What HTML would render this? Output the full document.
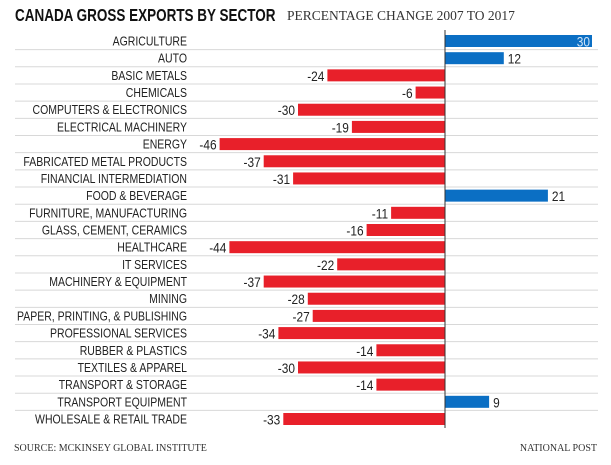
<!DOCTYPE html>
<html><head><meta charset="utf-8"><style>
body{margin:0;background:#fff;width:611px;height:465px;overflow:hidden}
svg{display:block}
.lab{font-family:"Liberation Sans",sans-serif;font-size:12.5px;fill:#222}
.val{font-family:"Liberation Sans",sans-serif;font-size:14px}
.ser{font-family:"Liberation Serif",serif;fill:#333}
</style></head><body>
<svg id="chart" width="611" height="465">
<g transform="translate(15,21) scale(0.75,1)"><text x="0" y="0" style="font-family:'Liberation Sans',sans-serif;font-weight:bold;font-size:18px;fill:#111">CANADA GROSS EXPORTS BY SECTOR</text></g>
<g transform="translate(287,20) scale(1,1)"><text x="0" y="0" class="ser" style="font-size:13.5px">PERCENTAGE CHANGE 2007 TO 2017</text></g>
<g id="rows"></g>
<text x="14" y="451" class="ser" style="font-size:10px">SOURCE: MCKINSEY GLOBAL INSTITUTE</text>
<text x="597" y="451" class="ser" text-anchor="end" style="font-size:10px">NATIONAL POST</text>
</svg>
<script>
const categories=["AGRICULTURE","AUTO","BASIC METALS","CHEMICALS","COMPUTERS & ELECTRONICS","ELECTRICAL MACHINERY","ENERGY","FABRICATED METAL PRODUCTS","FINANCIAL INTERMEDIATION","FOOD & BEVERAGE","FURNITURE,  MANUFACTURING","GLASS, CEMENT, CERAMICS","HEALTHCARE","IT SERVICES","MACHINERY & EQUIPMENT","MINING","PAPER, PRINTING, & PUBLISHING","PROFESSIONAL SERVICES","RUBBER & PLASTICS","TEXTILES & APPAREL","TRANSPORT & STORAGE","TRANSPORT EQUIPMENT","WHOLESALE & RETAIL TRADE"];
const values=[30,12,-24,-6,-30,-19,-46,-37,-31,21,-11,-16,-44,-22,-37,-28,-27,-34,-14,-30,-14,9,-33];
const NS="http://www.w3.org/2000/svg";
const g=document.getElementById('rows');
const x0=445,scale=4.9,y0=41,step=(419-41)/(categories.length-1),bh=12;
const xs=v=>x0+v*scale, ys=i=>y0+i*step;
function mk(t,a,p){const e=document.createElementNS(NS,t);for(const k in a)e.setAttribute(k,a[k]);(p||g).appendChild(e);return e;}
categories.forEach((c,i)=>{
  const y=ys(i);
  if(i<categories.length-1){
    const l=mk('line',{x1:15,x2:598,y1:y+step/2,y2:y+step/2,stroke:'#d8d8d8','stroke-width':1});
    
    
  }
  const tg=mk('g',{transform:`translate(187,${y+4.5}) scale(0.84,1)`});
  const t=mk('text',{x:0,y:0,'text-anchor':'end',class:'lab'},tg);
  t.textContent=c;
  
  
  const v=values[i];
  const xa=Math.min(xs(0),xs(v)),w=Math.abs(xs(v)-xs(0));
  const r=mk('rect',{x:xa,y:y-bh/2,width:w,height:bh,fill:v<0?'#e8202a':'#0b6fc4'});
  
  
  let lx,anchor,fill='#222';
  if(v<0){lx=xs(v)-3;anchor='end';}
  else if(w>120){lx=xs(v)-2;anchor='end';fill='#cfe3f7';}
  else{lx=xs(v)+4;anchor='start';}
  const vg=mk('g',{transform:`translate(${lx},${y+5.5}) scale(0.85,1)`});
  const vt=mk('text',{x:0,y:0,'text-anchor':anchor,class:'val',fill:fill},vg);
  vt.textContent=v;
  
  
});
const z=mk('line',{x1:x0,x2:x0,y1:30,y2:428,stroke:'#333','stroke-width':1});


</script>
</body></html>
